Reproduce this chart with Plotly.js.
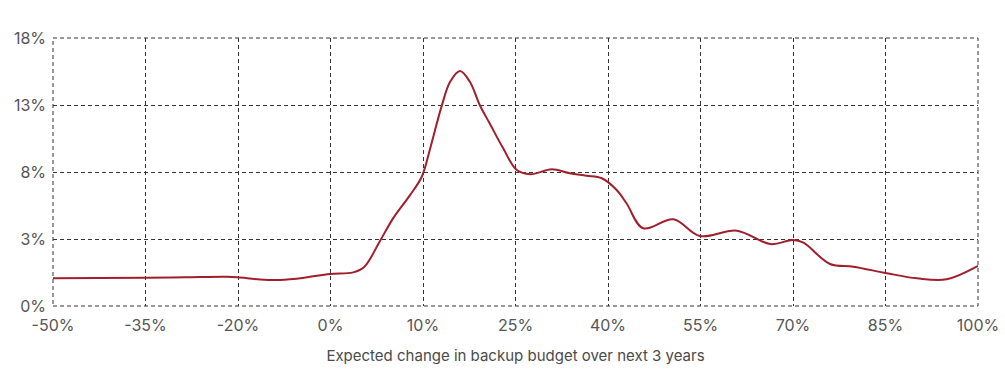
<!DOCTYPE html>
<html>
<head>
<meta charset="utf-8">
<script src="https://cdn.plot.ly/plotly-3.0.1.min.js"></script>
<style>html,body{margin:0;padding:0;background:#fff;}#chart{width:1005px;height:372px;}</style>
</head>
<body>
<div id="chart"></div>
<script>
// Expected change in backup budget (axis position) and share of respondents (%)
const budgetChange = [-50, -35, -28.6, -21.8, -20, -16.4, -13.2, -9.1, -5.1, -1.3, 0.5, 3.0, 5.2, 7.9, 9.8, 11.1, 13.0, 14.4, 16.0, 17.6, 19.2, 20.8, 23.0, 25.2, 27.4, 30.9, 33.8, 36.5, 39.0, 41.4, 43.0, 45.7, 50.6, 54.9, 60.9, 66.3, 70.0, 71.7, 76.0, 79.8, 85.2, 90.1, 94.9, 100];
const shareValues = [1.86, 1.90, 1.93, 1.97, 1.93, 1.78, 1.75, 1.91, 2.15, 2.26, 2.64, 4.35, 5.92, 7.45, 8.68, 10.48, 13.39, 15.06, 15.78, 15.06, 13.50, 12.27, 10.59, 9.13, 8.85, 9.18, 8.91, 8.75, 8.58, 7.79, 6.90, 5.22, 5.82, 4.70, 5.06, 4.16, 4.43, 4.25, 2.82, 2.64, 2.20, 1.86, 1.79, 2.69];

const xTickVals = [-50, -35, -20, -5, 10, 25, 40, 55, 70, 85, 100];
const xTickText = ['-50%', '-35%', '-20%', '0%', '10%', '25%', '40%', '55%', '70%', '85%', '100%'];
const yTickVals = [0, 4.5, 9, 13.5, 18];
const yTickText = ['0%', '3%', '8%', '13%', '18%'];

const trace = {
  x: budgetChange,
  y: shareValues,
  type: 'scatter',
  mode: 'lines',
  line: {color: '#A11F2C', width: 2, shape: 'spline', smoothing: 1},
  hoverinfo: 'x+y'
};

const layout = {
  width: 1005,
  height: 372,
  margin: {l: 53, r: 27, t: 38, b: 66},
  paper_bgcolor: '#ffffff',
  plot_bgcolor: '#ffffff',
  showlegend: false,
  font: {family: 'Inter, "Open Sans", sans-serif', color: '#4a4a4a'},
  xaxis: {
    range: [-50, 100],
    tickvals: xTickVals,
    ticktext: xTickText,
    showgrid: true,
    gridcolor: '#333333',
    gridwidth: 1,
    griddash: '4px,3px',
    zeroline: false,
    showline: false,
    ticks: '',
    ticklabelstandoff: 8,
    tickfont: {size: 16, color: '#555555'},
    title: {text: 'Expected change in backup budget over next 3 years', font: {size: 15, color: '#4a4a4a'}, standoff: 16}
  },
  yaxis: {
    range: [0, 18],
    tickvals: yTickVals,
    ticktext: yTickText,
    showgrid: true,
    gridcolor: '#333333',
    gridwidth: 1,
    griddash: '4px,3px',
    zeroline: false,
    showline: false,
    ticks: '',
    ticklabelstandoff: 6,
    tickfont: {size: 16, color: '#555555'}
  },
  shapes: [{
    type: 'rect', xref: 'paper', yref: 'paper', x0: 0, x1: 1, y0: 0, y1: 1,
    line: {color: '#333333', width: 1, dash: '4px,3px'}, layer: 'below'
  }]
};

Plotly.newPlot('chart', [trace], layout, {displayModeBar: false, staticPlot: true});
</script>
</body>
</html>
